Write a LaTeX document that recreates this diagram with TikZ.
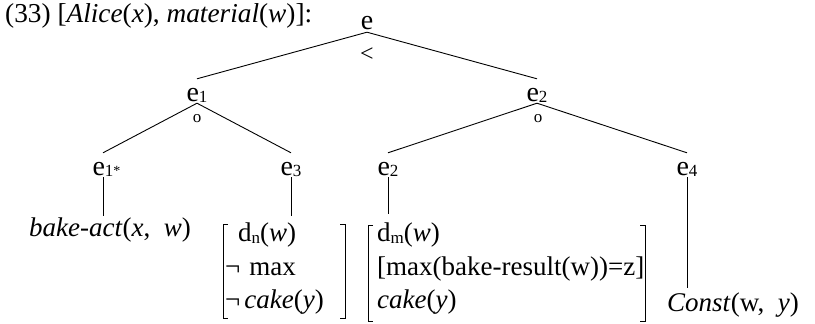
\documentclass[tikz,border=0pt]{standalone}
\usepackage{fontspec}
\setmainfont{Liberation Serif}
\newcommand\sbs[1]{\raisebox{-1.5pt}{\fontsize{17}{17}\selectfont #1}}
\begin{document}
\begin{tikzpicture}[x=1pt,y=-1pt,
  every node/.style={inner sep=0pt, font=\fontsize{27}{33.5}\selectfont},
  enode/.style={anchor=base, text height=22pt, text depth=2pt, font=\fontsize{28}{33.5}\selectfont},
  opmark/.style={font=\fontsize{17}{17}\selectfont},
  ltmark/.style={font=\fontsize{24}{24}\selectfont},
  branch/.style={line width=0.9pt},
  brk/.style={line width=0.9pt},
  leaf/.style={anchor=base},
  matnode/.style={anchor=north west, align=left}]
\useasboundingbox (0,0) rectangle (815,324);

% title
\node[anchor=base west, font=\fontsize{27.3}{33.5}\selectfont] (title) at (5,22)
  {(33) [\textit{Alice}(\textit{x}), \textit{material}(\textit{w})]:};

% tree nodes
\node[enode] (e)   at (367,30)  {e};
\node[enode] (e1)  at (197,101) {e\sbs{1}};
\node[enode] (e2)  at (537,101) {e\sbs{2}};
\node[enode] (e1s) at (103,175) {e\sbs{1}\rlap{\fontsize{14}{14}\selectfont *}};
\node[enode] (e3)  at (291,175) {e\sbs{3}};
\node[enode] (e2b) at (388,175) {e\sbs{2}};
\node[enode] (e4)  at (687,175) {e\sbs{4}};

% operator marks
\node[ltmark] (lt) at (367,55) {<};
\node[opmark] (o1) at (197,119) {o};
\node[opmark] (o2) at (538,119) {o};

% leaves
\node[leaf] (bake) at (110,236) {\textit{bake-act}(\textit{x},\hspace{0.5em}\textit{w})};
\node[matnode, text width=120pt] (m1) at (225,218)
  {\strut\hspace*{13pt}d\sbs{n}(\textit{w})\\
   ¬\hspace{9pt}max\\
   ¬\hspace{4pt}\textit{cake}(\textit{y})\strut};
\node[matnode, text width=268pt] (m2) at (377,218)
  {\strut d\sbs{m}(\textit{w})\\
   \mbox{[max(bake-result(w))=z]}\\
   \textit{cake}(\textit{y})\strut};
\node[leaf] (cst) at (733,311) {\textit{Const}(w,\hspace{0.5em}\textit{y})};

% branches
\draw[branch] (e.south) -- (e1.north);
\draw[branch] (e.south) -- (e2.north);
\draw[branch] (e1.south) -- (e1s.north);
\draw[branch] (e1.south) -- (e3.north);
\draw[branch] (e2.south) -- (e2b.north);
\draw[branch] (e2.south) -- (e4.north);
\draw[branch, shorten >=1pt] (e1s.south) -- (e1s.south |- bake.north);
\draw[branch, shorten >=2.5pt] (e3.south) -- (e3.south |- m1.north);
\draw[branch, shorten >=4pt] (e2b.south) -- (e2b.south |- m2.north);
\draw[branch, shorten >=4pt] (e4.south) -- (e4.south |- cst.north);

% brackets
\draw[brk] ([xshift=3pt,yshift=-6.5pt]m1.north west) -- ([xshift=-2pt,yshift=-6.5pt]m1.north west)
  -- ([xshift=-2pt]m1.south west) -- ([xshift=3pt]m1.south west);
\draw[brk] ([xshift=-5pt,yshift=-6.5pt]m1.north east) -- ([yshift=-6.5pt]m1.north east)
  -- (m1.south east) -- ([xshift=-5pt]m1.south east);
\draw[brk] ([xshift=-4pt,yshift=-7.5pt]m2.north west) -- ([xshift=-9pt,yshift=-7.5pt]m2.north west)
  -- ([xshift=-9pt,yshift=-3pt]m2.south west) -- ([xshift=-4pt,yshift=-3pt]m2.south west);
\draw[brk] ([xshift=-5pt,yshift=-7.5pt]m2.north east) -- ([yshift=-7.5pt]m2.north east)
  -- ([yshift=-3pt]m2.south east) -- ([xshift=-5pt,yshift=-3pt]m2.south east);
\end{tikzpicture}
\end{document}
